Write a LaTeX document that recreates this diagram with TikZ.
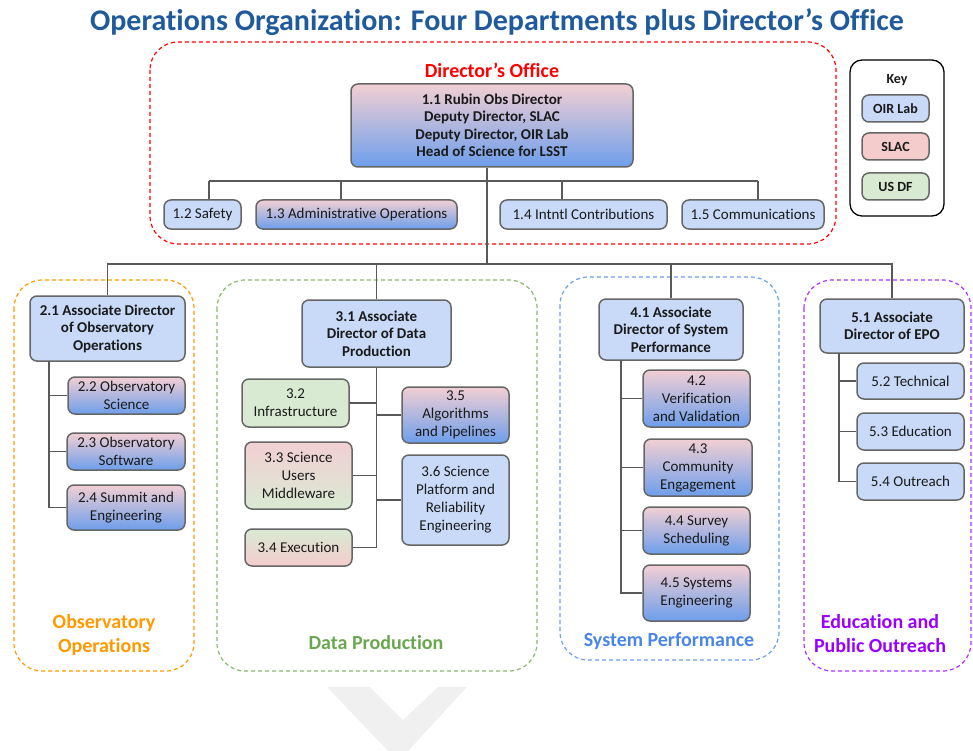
\documentclass[tikz,border=0pt]{standalone}
\usepackage{fontspec}
\setmainfont{Carlito}[Ligatures=NoCommon]
\usetikzlibrary{calc}
\definecolor{oir}{HTML}{C9DAF8}
\definecolor{slac}{HTML}{F4CCCC}
\definecolor{usdf}{HTML}{D9EAD3}
\definecolor{gradblue}{HTML}{6D9EEB}
\definecolor{gradpink}{HTML}{F2CFD3}
\definecolor{midblue}{HTML}{9FC5E8}
\definecolor{boxgray}{HTML}{666666}
\definecolor{linegray}{HTML}{595959}
\definecolor{txt}{HTML}{1A1A1A}
\definecolor{titleblue}{HTML}{1F5A9C}
\definecolor{dirred}{HTML}{FF0000}
\definecolor{obsorange}{HTML}{FF9900}
\definecolor{dpgreen}{HTML}{6AA84F}
\definecolor{spblue}{HTML}{4A86E8}
\definecolor{epopurple}{HTML}{9900FF}
\definecolor{chev}{HTML}{F0F0F0}
\newcommand{\orgbox}[7][]{\node[box,#1,minimum width={#4-#2},minimum height={#5-#3}] (#6) at ({(#2+#4)/2},{(#3+#5)/2}) {#7};}
\begin{document}
\begin{tikzpicture}[x=1pt,y=-1pt,
  box/.style={draw=boxgray, line width=1.5pt, rounded corners=7pt, align=center, inner sep=0pt,
    font=\fontsize{15}{18}\selectfont, text=txt},
  bfont/.style={font=\fontsize{15}{17.5}\selectfont\bfseries},
  kfont/.style={font=\fontsize{14}{17}\selectfont\bfseries},
  oirfill/.style={fill=oir},
  slacfill/.style={fill=slac},
  usdffill/.style={fill=usdf},
  mixfill/.style={top color=gradpink, bottom color=gradblue},
  conn/.style={draw=linegray, line width=1.6pt},
  group/.style={line width=1.2pt, dash pattern=on 4pt off 3pt, rounded corners=28pt},
  grouplabel/.style={font=\fontsize{20}{24}\selectfont\bfseries, align=center}
]
\useasboundingbox (0,0) rectangle (973,751);
% background chevron
\fill[chev] (327,687) -- (370,687) -- (403,720) -- (438,687) -- (467,687) -- (408,751) -- (398,761) -- (388,751) -- cycle;

% title
\node[font=\fontsize{30}{34}\selectfont\bfseries, text=titleblue] (title) at (497,22) {Operations Organization: Four Departments plus Director’s Office};

% group frames
\draw[group, draw=dirred] (150,42) rectangle (836,244);
\draw[group, draw=obsorange] (14,280) rectangle (194,671);
\draw[group, draw=dpgreen!80] (217,280) rectangle (537,671);
\draw[group, draw=gradblue] (560,277) rectangle (779,660);
\draw[group, draw=epopurple!80] (804,280) rectangle (971,671);

\node[grouplabel, text=dirred] (lbl1) at (492,70) {Director’s Office};
\node[grouplabel, text=obsorange] (lbl2) at (104,635) {Observatory\\Operations};
\node[grouplabel, text=dpgreen] (lbl3) at (376,643) {Data Production};
\node[grouplabel, text=spblue] (lbl4) at (669,641) {System Performance};
\node[grouplabel, text=epopurple] (lbl5) at (880,634) {Education and\\Public Outreach};

% key
\draw[line width=1.3pt, rounded corners=12pt] (850,60) rectangle (944,216);
\node[kfont, text=txt] (keyt) at (897,80) {Key};
\orgbox[oirfill,kfont]{862}{95}{929}{122}{k1}{OIR Lab}
\orgbox[slacfill,kfont]{862}{133}{929}{160}{k2}{SLAC}
\orgbox[usdffill,kfont]{862}{173}{929}{200}{k3}{US DF}

% director's office
\orgbox[mixfill,bfont]{351}{84}{633}{167}{n11}{1.1 Rubin Obs Director\\Deputy Director, SLAC\\Deputy Director, OIR Lab\\Head of Science for LSST}
\orgbox[oirfill]{164}{200}{241}{229}{n12}{1.2 Safety}
\orgbox[mixfill]{256}{200}{457}{229}{n13}{1.3 Administrative Operations}
\orgbox[oirfill]{500}{200}{667}{229}{n14}{1.4 Intntl Contributions}
\orgbox[oirfill]{682}{200}{824}{229}{n15}{1.5 Communications}

% department heads
\orgbox[oirfill,bfont]{30}{296}{185}{361}{n21}{2.1 Associate Director\\of Observatory\\Operations}
\orgbox[oirfill,bfont]{302}{300}{451}{367}{n31}{3.1 Associate\\Director of Data\\Production}
\orgbox[oirfill,bfont]{599}{299}{743}{360}{n41}{4.1 Associate\\Director of System\\Performance}
\orgbox[oirfill,bfont]{820}{299}{964}{353}{n51}{5.1 Associate\\Director of EPO}

% observatory operations
\orgbox[mixfill]{68}{377}{185}{414}{n22}{2.2 Observatory\\Science}
\orgbox[mixfill]{67}{433}{185}{470}{n23}{2.3 Observatory\\Software}
\orgbox[mixfill]{67}{485}{185}{530}{n24}{2.4 Summit and\\Engineering}

% data production
\orgbox[usdffill]{242}{379}{349}{427}{n32}{3.2\\Infrastructure}
\orgbox[top color=gradpink, middle color=midblue, bottom color=usdf]{245}{442}{352}{509}{n33}{3.3 Science\\Users\\Middleware}
\orgbox[top color=usdf, bottom color=slac]{245}{529}{352}{566}{n34}{3.4 Execution}
\orgbox[mixfill]{402}{387}{509}{443}{n35}{3.5\\Algorithms\\and Pipelines}
\orgbox[oirfill]{402}{455}{509}{545}{n36}{3.6 Science\\Platform and\\Reliability\\Engineering}

% system performance
\orgbox[mixfill]{643}{370}{750}{427}{n42}{4.2\\Verification\\and Validation}
\orgbox[mixfill]{644}{439}{752}{496}{n43}{4.3\\Community\\Engagement}
\orgbox[mixfill]{643}{507}{750}{554}{n44}{4.4 Survey\\Scheduling}
\orgbox[mixfill]{643}{565}{750}{621}{n45}{4.5 Systems\\Engineering}

% EPO
\orgbox[oirfill]{857}{363}{964}{399}{n52}{5.2 Technical}
\orgbox[oirfill]{857}{413}{964}{450}{n53}{5.3 Education}
\orgbox[oirfill]{857}{463}{964}{500}{n54}{5.4 Outreach}

% ---------- connectors ----------
\coordinate (b1) at (209,181);
\coordinate (b2) at (758,181);
\coordinate (d13) at (341,181);
\coordinate (d14) at (562,181);
\coordinate (trunk) at (487,264);
\draw[conn] (n11.south -| trunk) -- (trunk);
\draw[conn] (b1) -- (b2);
\draw[conn] (b1) -- (n12.north -| b1);
\draw[conn] (d13) -- (n13.north -| d13);
\draw[conn] (d14) -- (n14.north -| d14);
\draw[conn] (b2) -- (n15.north -| b2);
% department bus
\draw[conn] (n21.north) |- (trunk) -| (n51.north);
\draw[conn] (n31.north) -- (n31.north |- trunk);
\draw[conn] (n41.north) -- (n41.north |- trunk);

% observatory ops tree
\coordinate (t2) at (49,361);
\draw[conn] (t2) |- (n24.west);
\draw[conn] (n22.west) -- (n22.west -| t2);
\draw[conn] (n23.west) -- (n23.west -| t2);

% data production tree
\draw[conn] (n31.south) |- (n34.east);
\draw[conn] (n32.east) -- (n32.east -| n31.south);
\draw[conn] (n33.east) -- (n33.east -| n31.south);
\draw[conn] (n35.west) -- (n35.west -| n31.south);
\draw[conn] (n36.west) -- (n36.west -| n31.south);

% system performance tree
\coordinate (t4) at (621,360);
\draw[conn] (t4) |- (n45.west);
\draw[conn] (n42.west) -- (n42.west -| t4);
\draw[conn] (n43.west) -- (n43.west -| t4);
\draw[conn] (n44.west) -- (n44.west -| t4);

% EPO tree
\coordinate (t5) at (839,353);
\draw[conn] (t5) |- (n54.west);
\draw[conn] (n52.west) -- (n52.west -| t5);
\draw[conn] (n53.west) -- (n53.west -| t5);
\end{tikzpicture}
\end{document}
